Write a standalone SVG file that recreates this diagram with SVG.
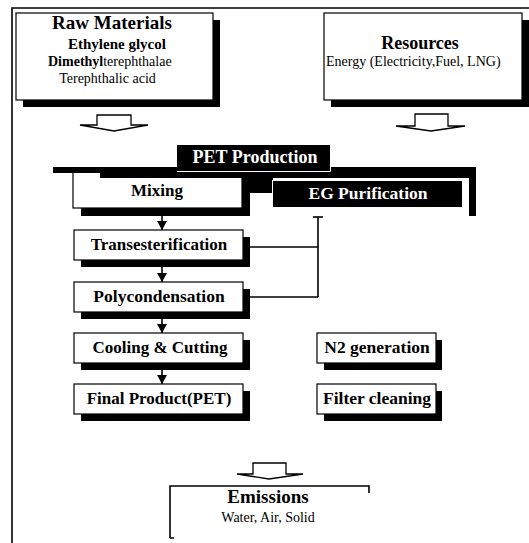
<svg xmlns="http://www.w3.org/2000/svg" width="529" height="543" viewBox="0 0 529 543">
<style>
.sh{fill:#000}
.bx{fill:#fff;stroke:#000;stroke-width:1.2}
.t{font-family:'Liberation Serif','DejaVu Serif',serif;fill:#000}
.b{font-weight:bold}
.w{fill:#fff}
.ln{stroke:#000;stroke-width:1.6;fill:none}
.ba{fill:#fff;stroke:#000;stroke-width:1.3}
.blk{fill:#000}
</style>
<defs>
<marker id="ah" markerWidth="9" markerHeight="10" refX="9" refY="5" orient="auto" markerUnits="userSpaceOnUse" viewBox="0 0 9 10"><path d="M0,0 L9,5 L0,10 Z" fill="#000"/></marker>
</defs>
<rect width="529" height="543" fill="#fff"/>
<path d="M12,543 V8 H529" class="ln" stroke-width="1.4"/>

<g id="raw-materials">
<rect class="sh" x="23" y="20" width="197" height="87"/>
<rect class="bx" x="16" y="13" width="197" height="87"/>
<text class="t b" x="112" y="29" font-size="19" text-anchor="middle" font-family="Liberation Serif, serif">Raw Materials</text>
<text class="t b" x="117" y="49" font-size="15" text-anchor="middle" font-family="Liberation Serif, serif">Ethylene glycol</text>
<text class="t" x="48" y="66" font-size="14" font-family="Liberation Serif, serif"><tspan font-weight="bold">Dimethyl</tspan>terephthalae</text>
<text class="t" x="107.5" y="83" font-size="14" text-anchor="middle" font-family="Liberation Serif, serif">Terephthalic acid</text>
</g>

<g id="resources">
<rect class="sh" x="331" y="20" width="198" height="87"/>
<rect class="bx" x="324" y="13" width="198" height="87"/>
<text class="t b" x="420" y="49" font-size="18" text-anchor="middle" font-family="Liberation Serif, serif">Resources</text>
<text class="t" x="326" y="66" font-size="14" font-family="Liberation Serif, serif">Energy (Electricity,Fuel, LNG)</text>
</g>

<g id="pet-production">
<rect class="sh" x="81" y="186" width="169" height="30"/>
<rect class="bx" x="73" y="172" width="169" height="36"/>
<rect class="blk" x="53" y="167" width="47" height="6"/>
<rect class="blk" x="100" y="167" width="376" height="11"/>
<rect class="blk" x="242" y="167" width="31" height="26"/>
<rect class="blk" x="469" y="167" width="7" height="49"/>
<rect class="blk" x="177" y="145" width="154" height="27"/>
<path d="M177,171.5 H330.5 V145" stroke="#fff" stroke-width="1" fill="none"/>
<text class="t b w" x="255" y="163" font-size="18" text-anchor="middle" font-family="Liberation Serif, serif">PET Production</text>
</g>

<g id="mixing">
<text class="t b" x="157" y="196" font-size="17" text-anchor="middle" font-family="Liberation Serif, serif">Mixing</text>
</g>

<g id="eg-purification">
<rect x="272.5" y="180.5" width="190" height="27" fill="#000" stroke="#fff" stroke-width="1"/>
<text class="t b w" x="368" y="199" font-size="17.5" text-anchor="middle" font-family="Liberation Serif, serif">EG Purification</text>
</g>

<g id="transesterification">
<rect class="sh" x="81" y="237" width="169" height="30"/>
<rect class="bx" x="74" y="230" width="169" height="30"/>
<text class="t b" x="159" y="250" font-size="17" text-anchor="middle" font-family="Liberation Serif, serif">Transesterification</text>
</g>

<g id="polycondensation">
<rect class="sh" x="81" y="289" width="169" height="30"/>
<rect class="bx" x="74" y="282" width="169" height="30"/>
<text class="t b" x="159" y="302" font-size="17.5" text-anchor="middle" font-family="Liberation Serif, serif">Polycondensation</text>
</g>

<g id="cooling-cutting">
<rect class="sh" x="81" y="340" width="169" height="30"/>
<rect class="bx" x="74" y="333" width="169" height="30"/>
<text class="t b" x="160" y="353" font-size="17" text-anchor="middle" font-family="Liberation Serif, serif">Cooling &amp; Cutting</text>
</g>

<g id="final-product">
<rect class="sh" x="81" y="391" width="169" height="30"/>
<rect class="bx" x="74" y="384" width="169" height="30"/>
<text class="t b" x="159" y="404" font-size="17" text-anchor="middle" font-family="Liberation Serif, serif">Final Product(PET)</text>
</g>

<g id="n2-generation">
<rect class="sh" x="324" y="340" width="118" height="30"/>
<rect class="bx" x="317" y="333" width="119" height="30"/>
<text class="t b" x="377" y="353" font-size="17.5" text-anchor="middle" font-family="Liberation Serif, serif">N2 generation</text>
</g>

<g id="filter-cleaning">
<rect class="sh" x="324" y="391" width="118" height="30"/>
<rect class="bx" x="317" y="384" width="119" height="30"/>
<text class="t b" x="377" y="404" font-size="17.5" text-anchor="middle" font-family="Liberation Serif, serif">Filter cleaning</text>
</g>

<g id="emissions">
<path d="M170,538 V486 H369 V493 M170,538 H174" class="ln" stroke-width="1.2"/>
<text class="t b" x="268" y="503" font-size="19" text-anchor="middle" font-family="Liberation Serif, serif">Emissions</text>
<text class="t" x="268" y="522" font-size="14" text-anchor="middle" font-family="Liberation Serif, serif">Water, Air, Solid</text>
</g>

<g id="connectors">
<path class="ba" d="M97,115 H131 V125 H148 L114,131 L80,125 H97 Z"/>
<path class="ba" d="M415,114 H448 V126 H465 L431,131 L396,126 H415 Z"/>
<path class="ba" d="M253,463 H286 V474 H303 L269,479 L237,474 H253 Z"/>
<line class="ln" x1="162" y1="216" x2="162" y2="230" marker-end="url(#ah)"/>
<line class="ln" x1="162" y1="267" x2="162" y2="282" marker-end="url(#ah)"/>
<line class="ln" x1="162" y1="319" x2="162" y2="333" marker-end="url(#ah)"/>
<line class="ln" x1="162" y1="370" x2="162" y2="384" marker-end="url(#ah)"/>
<path class="ln" d="M250,247 H318 M250,297 H318 M318,217 V297"/>
<path class="ln" d="M313,217 H323" stroke-width="2.5"/>
</g>
</svg>
